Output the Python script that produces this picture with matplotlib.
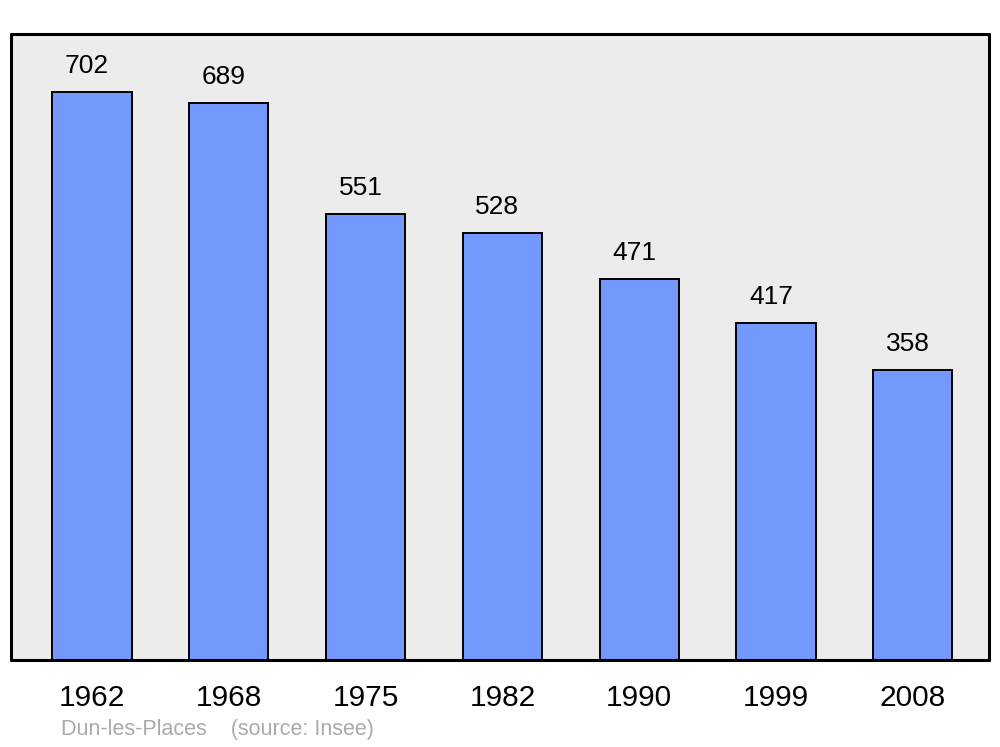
import matplotlib
matplotlib.use("Agg")
import matplotlib.pyplot as plt
from matplotlib.transforms import offset_copy

# population data (Dun-les-Places, source: Insee)
years = ["1962", "1968", "1975", "1982", "1990", "1999", "2008"]
population = [702, 689, 551, 528, 471, 417, 358]

plt.rcParams["font.family"] = ["Liberation Sans", "DejaVu Sans"]

fig = plt.figure(figsize=(10, 7.47), dpi=100)
ax = fig.add_axes([11 / 1000, 1 - 660 / 747, 978 / 1000, 626 / 747])
ax.set_facecolor("#ececec")

x = list(range(len(years)))
ax.bar(x, population, width=0.578, color="#7399ff", edgecolor="black", linewidth=1.4)

# value labels above each bar
lbl_trans = offset_copy(ax.transData, fig=fig, x=-5, y=14, units="dots")
for xi, v in zip(x, population):
    ax.text(xi, v, str(v), transform=lbl_trans, ha="center", va="bottom", fontsize=19)

ax.set_xlim(-0.592, 6.557)
ax.set_ylim(0, 774)
ax.set_xticks(x)
ax.set_xticklabels(years, fontsize=21.5)
ax.tick_params(axis="x", length=0, pad=17)
ax.set_yticks([])

for sp in ax.spines.values():
    sp.set_linewidth(2.2)
    sp.set_capstyle("round")
    sp.set_joinstyle("round")

fig.text(61 / 1000, 1 - 730 / 747, "Dun-les-Places    (source: Insee)",
         color="#aaaaaa", fontsize=15.5, ha="left", va="center")

fig.savefig("out.png", dpi=100, facecolor="white")
